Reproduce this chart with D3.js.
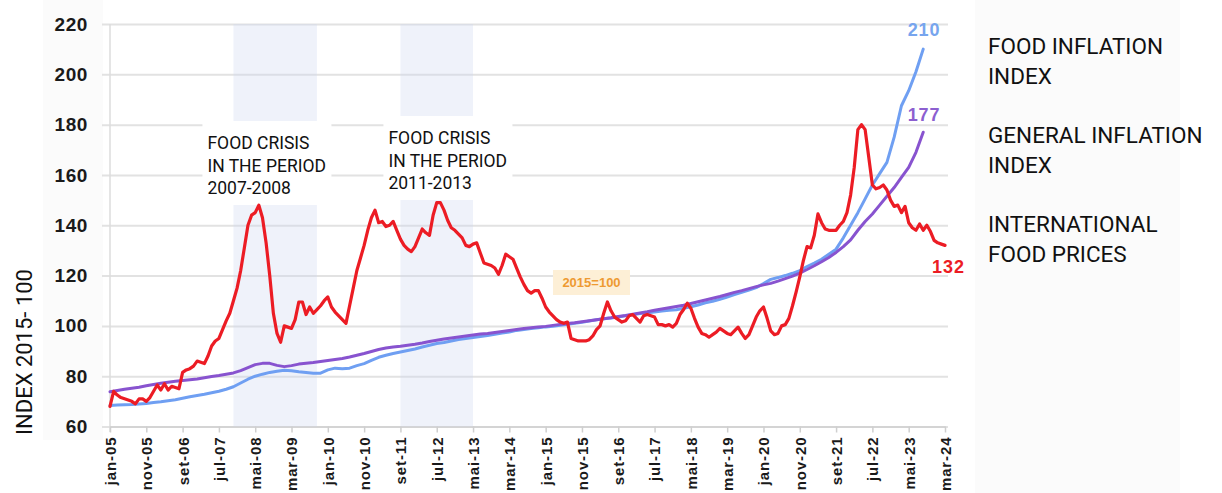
<!DOCTYPE html>
<html>
<head>
<meta charset="utf-8">
<script src="https://cdn.jsdelivr.net/npm/d3@7"></script>
<style>
  body { margin: 0; background: #fff; }
  svg { display: block; }
</style>
</head>
<body>
<script>
// x tick labels, one every 10 months from jan-05
const tickLabels = ["jan-05", "nov-05", "set-06", "jul-07", "mai-08", "mar-09", "jan-10", "nov-10",
  "set-11", "jul-12", "mai-13", "mar-14", "jan-15", "nov-15", "set-16", "jul-17", "mai-18", "mar-19",
  "jan-20", "nov-20", "set-21", "jul-22", "mai-23", "mar-24"];
const yTicks = [60, 80, 100, 120, 140, 160, 180, 200, 220];

// international food prices, monthly from jan-05 to mar-24
const foodPrices = [
  68, 74, 72.5, 71.5, 71, 70.5, 70, 69, 71, 71, 70, 71.5,
  74, 76.5, 74.5, 77, 74.5, 76, 75.5, 75, 81.5, 82.5, 83, 84,
  86, 85.5, 85, 88, 92, 94, 95, 98.5, 102, 105, 110, 115,
  122, 131, 140, 144, 145, 148, 143, 133, 120, 105, 97, 93.5,
  100, 99.5, 99, 102.5, 109.5, 109.5, 104.5, 107.5, 105, 106.5, 108, 110,
  111.5, 107.5, 105.5, 104, 102.5, 101, 108, 115, 122, 127, 132, 138,
  143, 146, 141, 141.5, 139.5, 140, 141.5, 138, 134.5, 132, 130.5, 129.5,
  131.5, 135, 138.5, 137, 136, 144, 149, 149, 146, 142, 139, 138,
  136.5, 135, 132, 131.5, 132.5, 133, 129, 125, 124.5, 124, 123, 120.5,
  124, 128.5, 127.5, 126.5, 123, 119.5, 116.5, 114, 113, 114, 114, 111,
  107.5, 105.5, 104, 102.5, 101.5, 101, 101.5, 95, 94.5, 94, 94, 94,
  94.5, 96, 98.5, 100, 105, 109.5, 106, 103.5, 102.5, 101.5, 102, 104,
  104.5, 103, 101.5, 104, 104.5, 104, 103.5, 100.5, 100.5, 100, 100.5, 99.5,
  101, 104.5, 106.5, 109, 107, 103, 99.5, 97, 96.5, 95.5, 96.5, 97.5,
  99, 98, 97, 96.5, 98, 99.5, 97, 95, 96.5, 100, 103.5, 106,
  107.5, 103, 98, 96.5, 97, 100, 100.5, 103, 108, 113.5, 119.5, 126,
  131.5, 131, 136, 144.5, 141, 138.5, 138, 138, 138, 140, 141.5, 145,
  152, 163, 178, 180, 178, 167, 156, 154.5, 155, 156, 154, 150,
  147.5, 148, 145, 147.5, 141, 139, 138, 140.5, 138, 140, 137.5, 134,
  133, 132.5, 132
];

// food inflation index, every two months from jan-05 to set-23
const foodInflation = [
  68.3, 68.5, 68.6, 68.7, 68.9, 69.1, 69.5, 69.8, 70.2, 70.6, 71.2, 71.8,
  72.3, 72.8, 73.4, 74.0, 74.8, 75.8, 77.3, 78.8, 80.0, 80.8, 81.5, 82.0,
  82.4, 82.2, 81.8, 81.5, 81.2, 81.2, 82.5, 83.2, 83.0, 83.2, 84.2, 85.0,
  86.3, 87.5, 88.3, 89.0, 89.6, 90.2, 90.8, 91.6, 92.3, 93.0, 93.4, 94.0,
  94.6, 95.0, 95.4, 95.8, 96.2, 96.7, 97.2, 97.6, 98.2, 98.6, 99.0, 99.3,
  99.6, 99.8, 100.2, 100.6, 101.0, 101.4, 101.9, 102.4, 102.8, 103.1, 103.5, 104.0,
  104.4, 104.9, 105.2, 105.5, 105.9, 106.2, 106.4, 107.0, 107.6, 108.3, 109.2, 109.8,
  110.6, 111.5, 112.4, 113.3, 114.2, 115.2, 116.8, 118.5, 119.2, 120.0, 120.9, 122.0,
  123.6, 125.0, 126.5, 128.5, 130.5, 135.0, 140.0, 145.0, 150.5, 156.0, 160.5, 165.0,
  175.0, 187.5, 193.5, 201.0, 210.0
];

// general inflation index, every two months from jan-05 to set-23
const generalInflation = [
  73.8, 74.3, 74.8, 75.2, 75.6, 76.2, 76.7, 77.2, 77.6, 78.0, 78.3, 78.6,
  78.9, 79.4, 79.9, 80.3, 80.8, 81.3, 82.2, 83.4, 84.6, 85.1, 85.1, 84.3,
  83.8, 84.2, 84.8, 85.1, 85.4, 85.8, 86.2, 86.6, 87.0, 87.6, 88.3, 89.0,
  89.8, 90.6, 91.2, 91.6, 91.9, 92.3, 92.7, 93.2, 93.8, 94.3, 94.8, 95.2,
  95.6, 96.0, 96.4, 96.8, 97.0, 97.4, 97.8, 98.2, 98.6, 99.0, 99.3, 99.6,
  99.8, 100.2, 100.6, 100.9, 101.2, 101.6, 102.0, 102.4, 102.8, 103.2, 103.7, 104.1,
  104.6, 105.1, 105.6, 106.2, 106.7, 107.2, 107.7, 108.2, 108.9, 109.6, 110.3, 111.0,
  111.7, 112.5, 113.3, 114.0, 114.8, 115.6, 116.3, 116.9, 117.8, 118.8, 119.8, 121.0,
  122.4, 123.9, 125.5, 127.2, 129.2, 131.5, 134.2, 138.0, 141.5, 144.5, 148.0, 151.5,
  155.0, 159.0, 163.0, 169.0, 177.0
];

// crisis periods, as months counted from jan-05
const crisisStart = [34, 80];   // nov-07, set-11
const crisisEnd = [57, 100];    // out-09, mai-13
const crisisText = [
  ["FOOD CRISIS", "IN THE PERIOD", "2007-2008"],
  ["FOOD CRISIS", "IN THE PERIOD", "2011-2013"]
];

const legendText = [
  ["FOOD INFLATION", "INDEX"],
  ["GENERAL INFLATION", "INDEX"],
  ["INTERNATIONAL", "FOOD PRICES"]
];

const width = 1222, height = 493;
const red = "#ec1c24", blue = "#6f9ff2", purple = "#8853cf";

const svg = d3.select("body").append("svg")
  .attr("width", width)
  .attr("height", height);

svg.append("rect").attr("width", width).attr("height", height).attr("fill", "#fff");
// faint panels behind the y labels and the legend
svg.append("rect").attr("x", 43).attr("y", 0).attr("width", 60).attr("height", 440).attr("fill", "#fbfbfb");
svg.append("rect").attr("x", 975).attr("y", 0).attr("width", 205).attr("height", height).attr("fill", "#fbfbfb");

const x = d3.scaleLinear().domain([0, 230]).range([110, 945]);
const y = d3.scaleLinear().domain([60, 220]).range([426.5, 24]);

// y axis + gridlines
const gy = svg.append("g")
  .attr("transform", "translate(110,0)")
  .call(d3.axisLeft(y).tickValues(yTicks).tickSize(-(948 - 110)).tickPadding(22));
gy.select(".domain").remove();
gy.selectAll(".tick line")
  .attr("x1", -8)
  .attr("stroke", "#e2e2e2")
  .attr("stroke-width", 2);
gy.selectAll(".tick text")
  .attr("fill", "#1a1a1a")
  .style("font", "bold 19px 'Liberation Sans', Arial, sans-serif")
  .style("letter-spacing", "0.6px");

// left axis line
svg.append("line")
  .attr("x1", 110).attr("x2", 110)
  .attr("y1", y(220)).attr("y2", 432)
  .attr("stroke", "#dcdcdc").attr("stroke-width", 1.5);

// x axis
const gx = svg.append("g")
  .attr("transform", `translate(0,${y(60)})`)
  .call(d3.axisBottom(x)
    .tickValues(d3.range(0, 231, 10))
    .tickFormat((d, i) => tickLabels[i])
    .tickSize(6)
    .tickSizeOuter(0));
gx.select(".domain").attr("stroke", "#cfcfcf").attr("stroke-width", 1.5);
gx.selectAll(".tick line").attr("stroke", "#cfcfcf").attr("stroke-width", 1.5);
gx.selectAll(".tick text")
  .attr("transform", "rotate(-90)")
  .attr("x", -10)
  .attr("y", 0)
  .attr("dy", "0.36em")
  .style("text-anchor", "end")
  .attr("fill", "#1a1a1a")
  .style("font", "bold 15px 'Liberation Sans', Arial, sans-serif")
  .style("letter-spacing", "0.9px");

// y axis title
svg.append("text")
  .attr("transform", "translate(32,352) rotate(-90)")
  .attr("text-anchor", "middle")
  .attr("fill", "#111")
  .style("font", "22px Roboto, sans-serif")
  .text("INDEX 2015- 100");

// shaded crisis bands
svg.append("g").selectAll("rect")
  .data(crisisStart)
  .join("rect")
  .attr("x", d => x(d))
  .attr("width", (d, i) => x(crisisEnd[i]) - x(d))
  .attr("y", y(220))
  .attr("height", y(60) - y(220))
  .attr("fill", "rgba(205,215,240,0.33)");

// white boxes with the crisis text
const boxOffset = [[-31, 121], [-17, 116]];
const boxes = svg.append("g").selectAll("g")
  .data(crisisText)
  .join("g")
  .attr("transform", (d, i) => `translate(${x(crisisStart[i]) + boxOffset[i][0]},${boxOffset[i][1]})`);
boxes.append("rect")
  .attr("width", 129)
  .attr("height", 84)
  .attr("fill", "#fff");
boxes.selectAll("text")
  .data(d => d)
  .join("text")
  .attr("x", 5)
  .attr("y", (d, i) => 28 + i * 22.5)
  .attr("fill", "#111")
  .style("font", "17.5px Roboto, sans-serif")
  .text(d => d);

// 2015=100 tag
const tag = svg.append("g").attr("transform", "translate(553,270)");
tag.append("rect").attr("width", 77).attr("height", 25).attr("fill", "#fdefd6");
tag.append("text")
  .attr("x", 38.5).attr("y", 17)
  .attr("text-anchor", "middle")
  .attr("fill", "#ee9a32")
  .style("font", "bold 13px 'Liberation Sans', Arial, sans-serif")
  .text("2015=100");

// lines
const monthly = d3.line().x((d, i) => x(i)).y(d => y(d));
const bimonthly = d3.line().x((d, i) => x(i * 2)).y(d => y(d));

svg.append("path").datum(foodInflation)
  .attr("d", bimonthly)
  .attr("fill", "none").attr("stroke", blue).attr("stroke-width", 3)
  .attr("stroke-linejoin", "round").attr("stroke-linecap", "round");
svg.append("path").datum(generalInflation)
  .attr("d", bimonthly)
  .attr("fill", "none").attr("stroke", purple).attr("stroke-width", 3)
  .attr("stroke-linejoin", "round").attr("stroke-linecap", "round");
svg.append("path").datum(foodPrices)
  .attr("d", monthly)
  .attr("fill", "none").attr("stroke", red).attr("stroke-width", 3.2)
  .attr("stroke-linejoin", "round").attr("stroke-linecap", "round");

// end values
const lastFood = foodInflation.length - 1, lastGen = generalInflation.length - 1, lastPrice = foodPrices.length - 1;
const endFont = "bold 18px 'Liberation Sans', Arial, sans-serif";
svg.append("text")
  .attr("x", x(lastFood * 2) + 17).attr("y", y(foodInflation[lastFood]) - 13)
  .attr("text-anchor", "end").attr("fill", "#77a5ee")
  .style("font", endFont).style("letter-spacing", "0.8px")
  .text(d3.format("d")(foodInflation[lastFood]));
svg.append("text")
  .attr("x", x(lastGen * 2) + 17).attr("y", y(generalInflation[lastGen]) - 11)
  .attr("text-anchor", "end").attr("fill", "#8c5fd0")
  .style("font", endFont).style("letter-spacing", "0.8px")
  .text(d3.format("d")(generalInflation[lastGen]));
svg.append("text")
  .attr("x", x(lastPrice) - 13).attr("y", y(foodPrices[lastPrice]) + 28)
  .attr("fill", red)
  .style("font", endFont).style("letter-spacing", "1px")
  .text(d3.format("d")(foodPrices[lastPrice]));

// legend on the right
const legendTop = [54, 143, 232];
svg.append("g").selectAll("g")
  .data(legendText)
  .join("g")
  .attr("transform", (d, i) => `translate(988,${legendTop[i]})`)
  .selectAll("text")
  .data(d => d)
  .join("text")
  .attr("y", (d, i) => i * 29.5)
  .attr("fill", "#111")
  .style("font", "22.5px Roboto, sans-serif")
  .text(d => d);
</script>
</body>
</html>
